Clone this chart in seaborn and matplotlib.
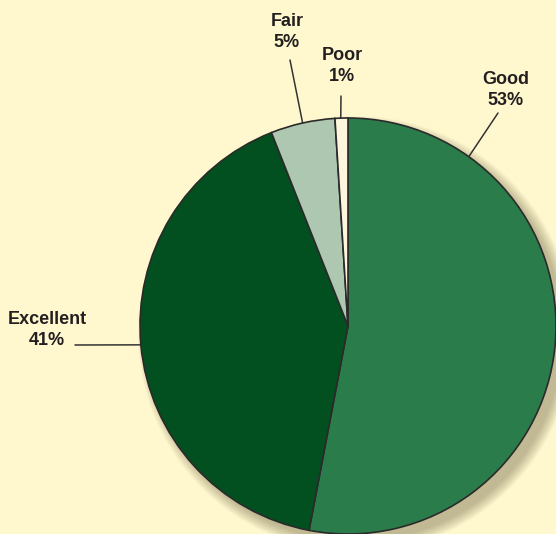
import numpy as np
import seaborn as sns
import matplotlib.pyplot as plt
from matplotlib.patches import Circle

sns.set_theme(style='white')
plt.rcParams['font.family'] = ['Liberation Sans', 'DejaVu Sans']

# data
categories = ['Good', 'Excellent', 'Fair', 'Poor']
shares = [53, 41, 5, 1]
colors = ['#2a7d4b', '#02501f', '#aec7b1', '#fdf6dc']

BG = '#fff8cf'
W, H = 556, 534
CX, CY, R = 348, 534 - 326, 208

fig = plt.figure(figsize=(W / 100, H / 100), dpi=100, facecolor=BG)
ax = fig.add_axes([0, 0, 1, 1])
ax.set_facecolor(BG)

# soft drop shadow behind the pie (down and to the right)
for k in range(12):
    ax.add_patch(Circle((CX + 8, CY - 8), R + 10 - k, color='#5a5030',
                        alpha=0.035, lw=0, zorder=0))

wedges, _ = ax.pie(shares, colors=colors, startangle=90, counterclock=False,
                   center=(CX, CY), radius=R, frame=True,
                   wedgeprops=dict(edgecolor='#2a2a2a', linewidth=1.2))

# label text position (px), angle where the leader line meets the pie
label_pos = {'Good': (506, 90), 'Excellent': (47, 330), 'Fair': (287, 32), 'Poor': (342, 66)}
line_start = {'Good': (498, 113), 'Excellent': (75, 345), 'Fair': (290, 60), 'Poor': (341, 96)}
hit_angle = {'Good': 54.5, 'Excellent': 185.2, 'Fair': 102.6, 'Poor': 92.0}

for cat, val in zip(categories, shares):
    tx, ty = label_pos[cat]
    ax.text(tx, H - ty, f'{cat}\n{val}%', ha='center', va='center',
            fontsize=13, fontweight='bold', color='#231f20', linespacing=1.35)
    a = np.deg2rad(hit_angle[cat])
    px, py = CX + R * np.cos(a), CY + R * np.sin(a)
    sx, sy = line_start[cat]
    ax.plot([sx, px], [H - sy, py], color='#333333', lw=1.1, zorder=0.5)

ax.set_xlim(0, W)
ax.set_ylim(0, H)
ax.set_aspect('equal')
ax.axis('off')

fig.savefig('out.png', dpi=100, facecolor=BG)
